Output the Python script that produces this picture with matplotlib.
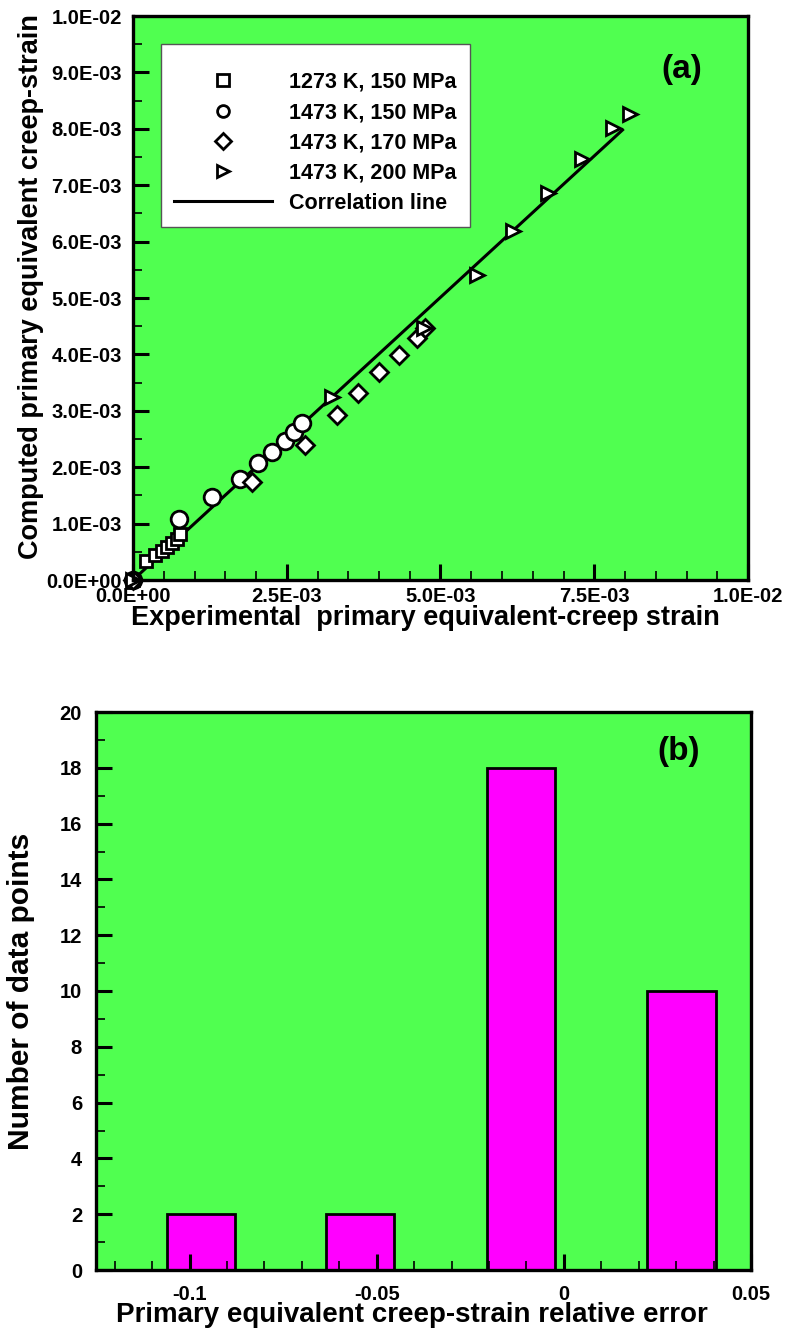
import numpy as np
import matplotlib
matplotlib.use('Agg')
import matplotlib.pyplot as plt
from matplotlib.ticker import MultipleLocator, FuncFormatter

plt.rcParams['font.family'] = ['Liberation Sans', 'DejaVu Sans']
plt.rcParams['font.weight'] = 'bold'

# dados (a): deformação experimental x computada
exp_1273_150 = [0.0, 0.00021, 0.00036, 0.00047, 0.00056, 0.00064, 0.00072, 0.00077]
comp_1273_150 = [0.0, 0.00034, 0.00044, 0.00052, 0.00059, 0.00066, 0.00073, 0.00082]

exp_1473_150 = [0.0, 0.00074, 0.00128, 0.00174, 0.00204, 0.00226, 0.00247, 0.00261, 0.00274]
comp_1473_150 = [0.0, 0.00108, 0.00148, 0.00179, 0.00207, 0.00227, 0.00247, 0.00263, 0.00278]

exp_1473_170 = [0.0, 0.00193, 0.00280, 0.00331, 0.00366, 0.00400, 0.00433, 0.00462, 0.00475]
comp_1473_170 = [0.0, 0.00174, 0.00239, 0.00293, 0.00331, 0.00368, 0.00399, 0.00429, 0.00446]

exp_1473_200 = [0.0, 0.00323, 0.00473, 0.00560, 0.00618, 0.00674, 0.00730, 0.00781, 0.00808]
comp_1473_200 = [0.0, 0.00325, 0.00446, 0.00541, 0.00618, 0.00686, 0.00746, 0.00801, 0.00827]

linha_x = [0.0, 0.00796]
linha_y = [0.0, 0.00798]

# dados (b): histograma do erro relativo
erro_centros = [-0.097, -0.0544, -0.0115, 0.0314]
erro_contagem = [2, 2, 18, 10]
largura_barra = 0.0183

verde = '#50FF50'
W, H = 789, 1337
fig = plt.figure(figsize=(W / 100, H / 100), dpi=100)

ax1 = fig.add_axes([133 / W, 1 - 580 / H, 615 / W, 564 / H])
ax2 = fig.add_axes([96 / W, 1 - 1270 / H, 655 / W, 558 / H])

for ax in (ax1, ax2):
    ax.set_facecolor(verde)
    for s in ax.spines.values():
        s.set_linewidth(2.4)
    ax.tick_params(which='major', direction='in', length=11.5, width=2.2,
                   labelsize=14.5, top=False, right=False)
    ax.tick_params(which='minor', direction='in', length=6.5, width=1.2,
                   top=False, right=False)

# painel (a)
kw = dict(linestyle='none', markerfacecolor='white', markeredgecolor='black',
          markeredgewidth=2, clip_on=False)
hl, = ax1.plot(linha_x, linha_y, color='black', lw=2.2, label='Correlation line', zorder=2)
h1, = ax1.plot(exp_1273_150, comp_1273_150, marker='s', markersize=9, label='1273 K, 150 MPa', **kw)
h2, = ax1.plot(exp_1473_150, comp_1473_150, marker='o', markersize=12, label='1473 K, 150 MPa', **kw)
h3, = ax1.plot(exp_1473_170, comp_1473_170, marker='D', markersize=9, label='1473 K, 170 MPa', **kw)
h4, = ax1.plot(exp_1473_200, comp_1473_200, marker='>', markersize=10.5, label='1473 K, 200 MPa', **kw)

ax1.set_xlim(0, 0.01)
ax1.set_ylim(0, 0.01)
ax1.xaxis.set_major_locator(MultipleLocator(0.0025))
ax1.xaxis.set_minor_locator(MultipleLocator(0.0005))
ax1.yaxis.set_major_locator(MultipleLocator(0.001))
ax1.yaxis.set_minor_locator(MultipleLocator(0.0005))
fmt = FuncFormatter(lambda v, p: f'{v:.1E}')
ax1.xaxis.set_major_formatter(fmt)
ax1.yaxis.set_major_formatter(fmt)
ax1.tick_params(axis='x', pad=5)
ax1.tick_params(axis='y', pad=8)
ax1.set_xlabel('Experimental  primary equivalent-creep strain', fontsize=19.5, fontweight='bold')
ax1.set_ylabel('Computed primary equivalent creep-strain', fontsize=19.5, fontweight='bold')
ax1.xaxis.set_label_coords(0.476, -0.045)
ax1.yaxis.set_label_coords(-0.145, 0.52)

leg = ax1.legend(handles=[h1, h2, h3, h4, hl], loc='upper left',
                 bbox_to_anchor=(0.045, 0.95), borderaxespad=0, frameon=True, fancybox=False,
                 edgecolor='#555555', framealpha=1, title=' ', title_fontsize=4,
                 handlelength=4.56, handletextpad=0.8, borderpad=0.62,
                 labelspacing=0.43, prop={'weight': 'bold', 'size': 15.5})
leg.get_frame().set_linewidth(1.0)
for h in leg.legend_handles[:4]:
    h.set_markersize(8.5)
    h.set_markeredgewidth(2)

ax1.text(0.893, 0.905, '(a)', transform=ax1.transAxes, fontsize=24, fontweight='bold',
         ha='center', va='center')

# painel (b)
ax2.bar(erro_centros, erro_contagem, width=largura_barra, color='#FF00FF',
        edgecolor='black', linewidth=2, zorder=1)
ax2.set_xlim(-0.125, 0.05)
ax2.set_ylim(0, 20)
ax2.xaxis.set_major_locator(MultipleLocator(0.05))
ax2.xaxis.set_minor_locator(MultipleLocator(0.01))
ax2.yaxis.set_major_locator(MultipleLocator(2))
ax2.yaxis.set_minor_locator(MultipleLocator(1))
ax2.xaxis.set_major_formatter(FuncFormatter(lambda v, p: '0' if abs(v) < 1e-9 else f'{v:g}'))
ax2.tick_params(axis='x', pad=11)
ax2.tick_params(axis='y', pad=10)
ax2.set_xlabel('Primary equivalent creep-strain relative error', fontsize=20, fontweight='bold')
ax2.set_ylabel('Number of data points', fontsize=21.5, fontweight='bold')
ax2.xaxis.set_label_coords(0.483, -0.057)
ax2.yaxis.set_label_coords(-0.093, 0.5)
ax2.text(0.89, 0.93, '(b)', transform=ax2.transAxes, fontsize=24, fontweight='bold',
         ha='center', va='center')

for ax in (ax1, ax2):
    for lab in ax.get_xticklabels() + ax.get_yticklabels():
        lab.set_fontweight('bold')

fig.savefig('out.png', dpi=100)
